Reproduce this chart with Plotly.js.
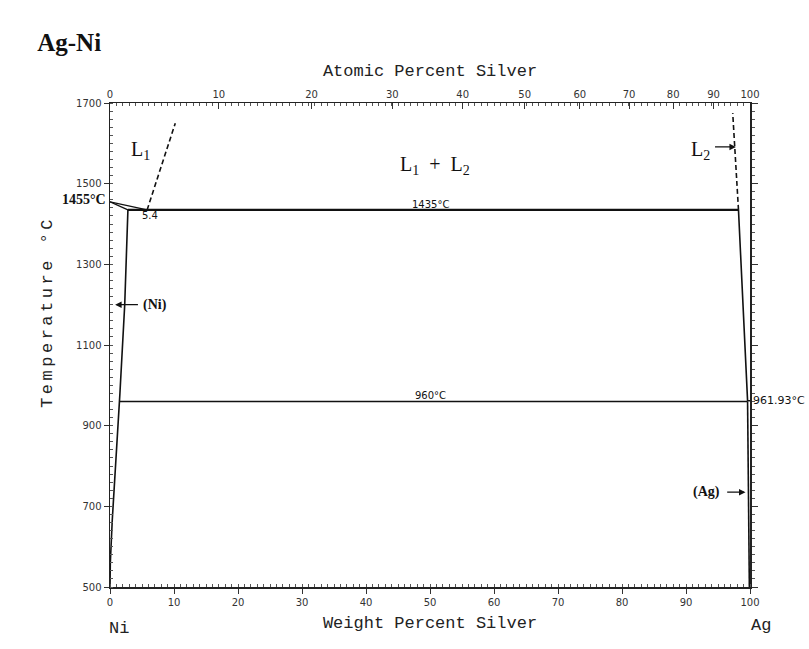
<!DOCTYPE html>
<html><head><meta charset="utf-8">
<script src="https://cdn.plot.ly/plotly-3.0.1.min.js"></script>
<style>body{margin:0;background:#fff}#frame{position:absolute;left:4px;top:0;width:2px;height:649px;background:#bbb}</style>
</head><body><div id="frame"></div><div id="chart" style="width:809px;height:649px"></div>
<script>
// Weight-percent tick values (bottom axis)
const wtTicks = [0,10,20,30,40,50,60,70,80,90,100];
// Atomic-percent labels (top axis) and their wt% positions
const atLabels = ['0','10','20','30','40','50','60','70','80','90','100'];
const atTickWt = [0,17.0,31.5,44.1,55.1,64.8,73.4,81.1,88.0,94.3,100];

// Ni-rich liquidus / solidus lens
const liqNiX = [0,5.8];      const liqNiT = [1455,1435];
const solNiX = [0,2.8];      const solNiT = [1455,1435];
// Dashed liquidus lines above the monotectic
const L1X = [5.8,10.2];      const L1T = [1435,1650];
const L2X = [98.2,97.3];     const L2T = [1435,1675];
// Monotectic & eutectic isotherms
const monoX = [2.8,98.2];    const monoT = [1435,1435];
const eutX = [1.5,99.62];    const eutT = [960,960];
// (Ni) solvus
const niSolvX = [2.8,2.3,1.55,0.9,0.35,0.05,0];
const niSolvT = [1435,1200,980,820,665,560,500];
// Ag-side liquidus
const agLiqX = [98.2,98.5,98.85,99.22,99.62,100];
const agLiqT = [1435,1340,1236,1112,962,961.93];
// (Ag) solvus
const agSolvX = [99.62,99.8,99.9];
const agSolvT = [960,750,500];

const blk = '#111';
const traces = [
  {x:liqNiX,y:liqNiT,mode:'lines',line:{color:blk,width:1.3}},
  {x:solNiX,y:solNiT,mode:'lines',line:{color:blk,width:1.3}},
  {x:L1X,y:L1T,mode:'lines',line:{color:blk,width:1.6,dash:'5px,3px'}},
  {x:L2X,y:L2T,mode:'lines',line:{color:blk,width:1.6,dash:'5px,3px'}},
  {x:monoX,y:monoT,mode:'lines',line:{color:blk,width:2.2}},
  {x:eutX,y:eutT,mode:'lines',line:{color:blk,width:1.4}},
  {x:niSolvX,y:niSolvT,mode:'lines',line:{color:blk,width:1.6}},
  {x:agLiqX,y:agLiqT,mode:'lines',line:{color:blk,width:1.6}},
  {x:agSolvX,y:agSolvT,mode:'lines',line:{color:blk,width:1.6}},
  {x:[0],y:[500],xaxis:'x2',yaxis:'y2',mode:'markers',marker:{opacity:0},hoverinfo:'skip'}
].map(t=>Object.assign({showlegend:false,hoverinfo:'skip'},t));

const tickFont = {family:'DejaVu Sans',size:10,color:'#333'};
const monoFont = {family:'Liberation Mono',size:17,color:'#222'};
const serif = 'Liberation Serif';

const ann = [
  {x:4.7,y:1583,text:'L<sub>1</sub>',font:{family:serif,size:20,color:blk}},
  {x:50.8,y:1546,text:'L<sub>1</sub>  +  L<sub>2</sub>',font:{family:serif,size:20,color:blk}},
  {x:92.2,y:1583,text:'L<sub>2</sub>',font:{family:serif,size:20,color:blk}},
  {x:-0.003,xref:'paper',y:1460,xanchor:'right',yanchor:'middle',text:'<b>1455°C</b>',font:{family:serif,size:14,color:blk}},
  {x:6.3,y:1420,text:'5.4',font:{family:'DejaVu Sans',size:10,color:blk}},
  {x:50,y:1448,text:'1435°C',font:{family:'DejaVu Sans',size:10,color:blk}},
  {x:50,y:975,text:'960°C',font:{family:'DejaVu Sans',size:10,color:blk}},
  {x:1.002,xref:'paper',y:962,text:'961.93°C',xanchor:'left',yanchor:'middle',font:{family:'DejaVu Sans',size:11,color:blk}},
  {x:4.9,y:1200,text:'<b>(Ni)</b>',xanchor:'left',font:{family:serif,size:14,color:blk}},
  {x:95.7,y:735,text:'<b>(Ag)</b>',xanchor:'right',font:{family:serif,size:14,color:blk}},
  {x:1.4,y:-0.085,xref:'x',yref:'paper',xanchor:'center',yanchor:'middle',text:'Ni',font:monoFont},
  {x:1.017,y:-0.079,xref:'paper',yref:'paper',xanchor:'center',yanchor:'middle',text:'Ag',font:monoFont},
  {x:-0.098,y:0.568,xref:'paper',yref:'paper',xanchor:'center',yanchor:'middle',textangle:-90,
   text:'Temperature °C',font:monoFont},
  // arrows
  {x:97.8,y:1591,ax:94.3,ay:1591,axref:'x',ayref:'y',text:'',showarrow:true,arrowhead:2,arrowsize:1,arrowwidth:1.3,arrowcolor:blk},
  {x:0.8,y:1200,ax:4.6,ay:1200,axref:'x',ayref:'y',text:'',showarrow:true,arrowhead:2,arrowsize:1,arrowwidth:1.3,arrowcolor:blk},
  {x:99.3,y:735,ax:96.2,ay:735,axref:'x',ayref:'y',text:'',showarrow:true,arrowhead:2,arrowsize:1,arrowwidth:1.3,arrowcolor:blk}
].map(a=>Object.assign({showarrow:false},a));

const layout = {
  width:809,height:649,
  margin:{l:110,r:59,t:103,b:62},
  paper_bgcolor:'#fff',plot_bgcolor:'#fff',
  title:{text:'<b>Ag-Ni</b>',x:0.046,xanchor:'left',xref:'container',y:0.935,yref:'container',yanchor:'middle',
         font:{family:serif,size:25,color:'#111'}},
  xaxis:{range:[0,100],tickmode:'array',tickvals:wtTicks,ticks:'outside',ticklen:5,tickcolor:'#333',
         showline:true,linecolor:'#222',linewidth:1.5,showgrid:false,zeroline:false,tickfont:tickFont,
         minor:{tickmode:'linear',tick0:0,dtick:1,ticks:'inside',ticklen:3,tickcolor:'#555',showgrid:false},
         title:{text:'Weight Percent Silver',font:monoFont,standoff:9}},
  xaxis2:{range:[0,100],overlaying:'x',side:'top',anchor:'y',tickmode:'array',tickvals:atTickWt,ticktext:atLabels,
          ticks:'inside',ticklen:6,tickcolor:'#333',showline:true,linecolor:'#222',linewidth:1.5,showgrid:false,zeroline:false,
          tickfont:tickFont,
          minor:{tickmode:'linear',tick0:0,dtick:1,ticks:'inside',ticklen:3,tickcolor:'#555',showgrid:false},
          title:{text:'Atomic Percent Silver',font:monoFont,standoff:7}},
  yaxis:{range:[500,1700],tickmode:'linear',tick0:500,dtick:200,ticks:'outside',ticklen:5,tickcolor:'#333',
         showline:true,linecolor:'#222',linewidth:1.5,showgrid:false,zeroline:false,tickfont:tickFont,
         minor:{tickmode:'linear',tick0:500,dtick:20,ticks:'inside',ticklen:3,tickcolor:'#555',showgrid:false}},
  yaxis2:{range:[500,1700],overlaying:'y',side:'right',anchor:'x',tickmode:'linear',tick0:500,dtick:200,
          ticks:'outside',ticklen:6,tickcolor:'#333',showticklabels:false,
          showline:true,linecolor:'#222',linewidth:1.5,showgrid:false,zeroline:false,
          minor:{tickmode:'linear',tick0:500,dtick:20,ticks:'outside',ticklen:3,tickcolor:'#555',showgrid:false}},
  annotations:ann
};
Plotly.newPlot('chart',traces,layout,{staticPlot:true,displayModeBar:false}).then(()=>{
  document.querySelectorAll('.annotation-text').forEach(el=>{
    if (el.textContent.indexOf('Temperature') === 0) el.style.letterSpacing = '3.5px';
  });
});
</script></body></html>
